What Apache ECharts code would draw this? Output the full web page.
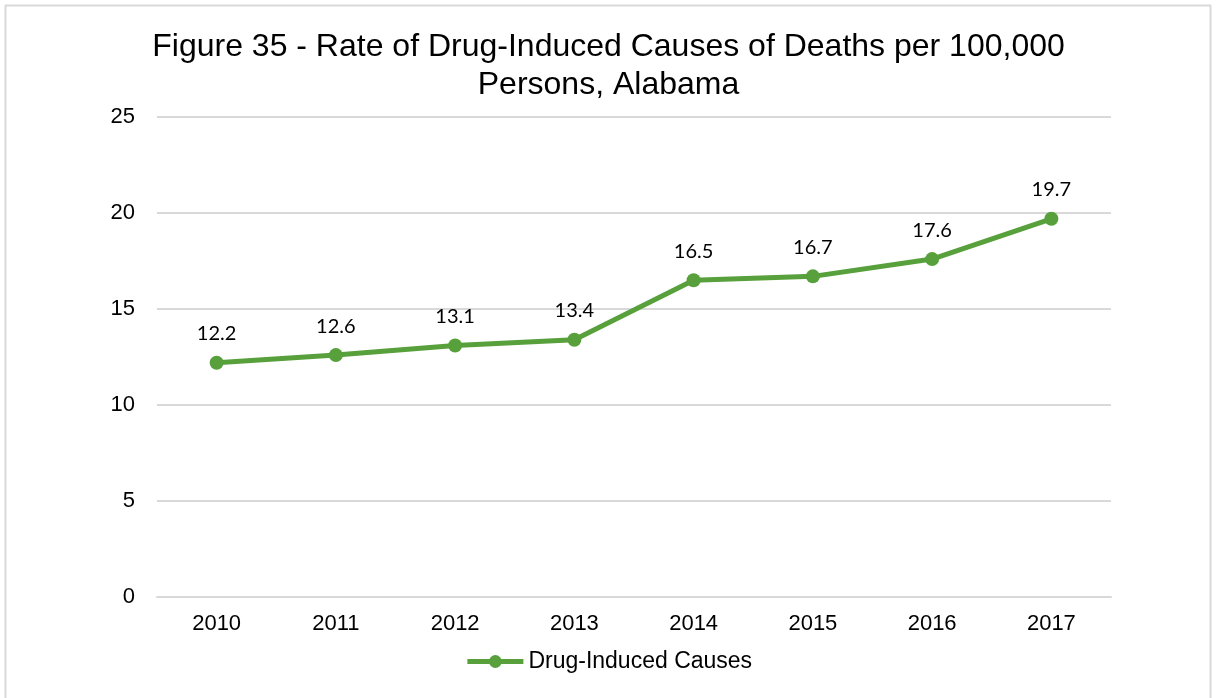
<!DOCTYPE html>
<html>
<head>
<meta charset="utf-8">
<script src="https://cdn.jsdelivr.net/npm/echarts@6/dist/echarts.min.js"></script>
<style>
  html, body { margin: 0; padding: 0; background: #fff; }
  #line-chart { width: 1217px; height: 698px; }
</style>
</head>
<body>
<div id="line-chart"></div>
<script>
const years = ['2010', '2011', '2012', '2013', '2014', '2015', '2016', '2017']
const drugInduced = [12.2, 12.6, 13.1, 13.4, 16.5, 16.7, 17.6, 19.7]
const seriesName = 'Drug-Induced Causes'
const titleLines = ['Figure 35 - Rate of Drug-Induced Causes of Deaths per 100,000', 'Persons, Alabama']

const green = '#57a03b'
const chartInstance = echarts.init(document.getElementById('line-chart'))

chartInstance.setOption({
  backgroundColor: '#fff',
  animation: false,
  graphic: [
    {
      type: 'rect',
      shape: { x: 5.5, y: 5.5, width: 1205, height: 700 },
      style: { fill: 'none', stroke: '#d9d9d9', lineWidth: 2 }
    }
  ],
  title: {
    text: titleLines.join('\n'),
    left: 'center',
    top: 23,
    textStyle: {
      fontFamily: 'Liberation Sans, Arial, sans-serif',
      fontSize: 32,
      fontWeight: 'normal',
      color: '#000',
      lineHeight: 38
    }
  },
  legend: {
    data: [seriesName],
    bottom: 20,
    left: 'center',
    itemWidth: 56,
    itemHeight: 16,
    itemGap: 10,
    lineStyle: { width: 5 },
    textStyle: {
      fontFamily: 'Liberation Sans, Arial, sans-serif',
      fontSize: 23,
      color: '#000'
    }
  },
  grid: {
    top: 117,
    left: 157,
    right: 106,
    bottom: 101,
    containLabel: false
  },
  xAxis: {
    type: 'category',
    boundaryGap: true,
    data: years,
    axisTick: { show: false },
    axisLine: { show: true, lineStyle: { color: '#d9d9d9', width: 2 } },
    axisLabel: {
      fontFamily: 'Liberation Sans, Arial, sans-serif',
      fontSize: 22,
      color: '#000',
      margin: 16
    }
  },
  yAxis: {
    type: 'value',
    min: 0,
    max: 25,
    interval: 5,
    axisLine: { show: false },
    axisTick: { show: false },
    axisLabel: {
      fontFamily: 'Liberation Sans, Arial, sans-serif',
      fontSize: 22,
      color: '#000',
      margin: 22
    },
    splitLine: { lineStyle: { color: '#d9d9d9', width: 2 } }
  },
  series: [
    {
      name: seriesName,
      type: 'line',
      data: drugInduced,
      symbol: 'circle',
      symbolSize: 14,
      lineStyle: { color: green, width: 5 },
      itemStyle: { color: green },
      label: {
        show: true,
        position: 'top',
        distance: 12,
        fontFamily: 'Lato, Noto Sans, sans-serif',
        fontSize: 20,
        color: '#000'
      }
    }
  ]
})
</script>
</body>
</html>
